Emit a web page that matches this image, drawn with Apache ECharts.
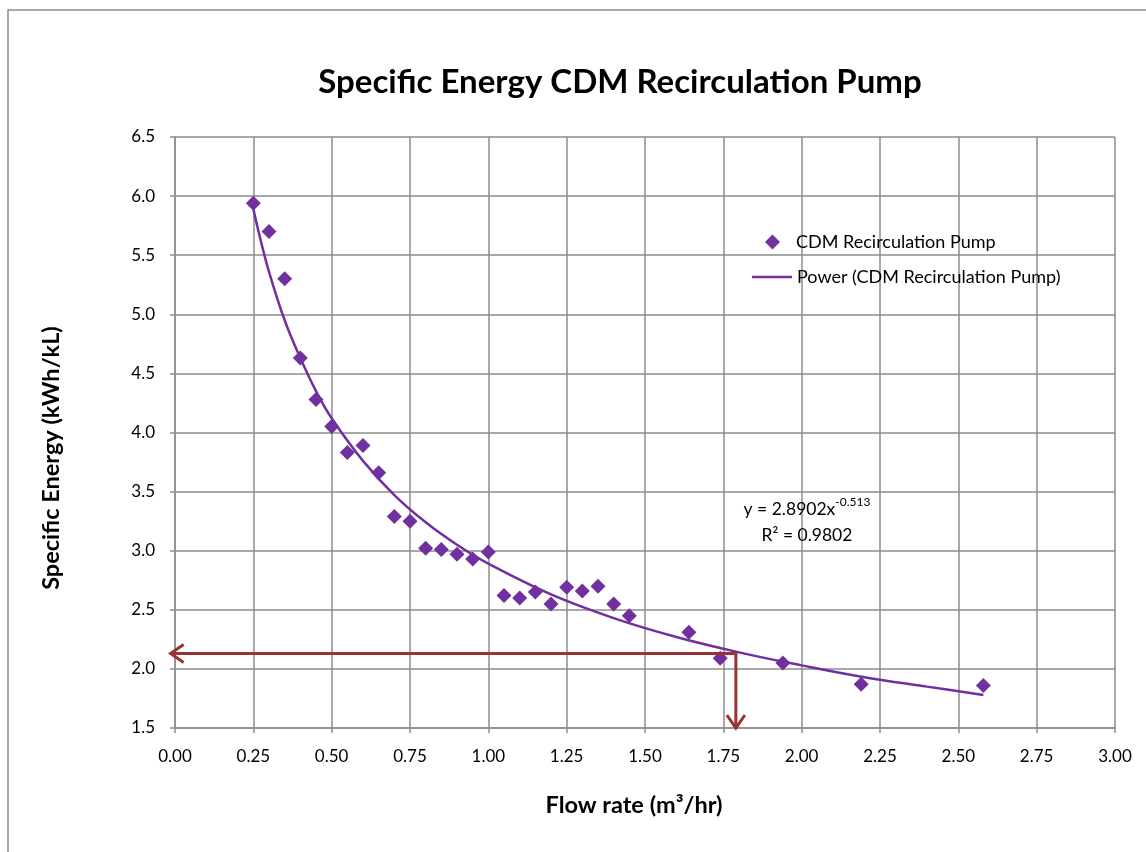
<!DOCTYPE html>
<html>
<head>
<meta charset="utf-8">
<script src="https://cdn.jsdelivr.net/npm/echarts@6/dist/echarts.min.js"></script>
<style>html,body{margin:0;padding:0;background:#fff;}#c{width:1146px;height:852px;}</style>
</head>
<body>
<div id="c"></div>
<script>
// Measured data points (flow rate m3/hr, specific energy kWh/kL)
const flowRates = [0.25,0.30,0.35,0.40,0.45,0.50,0.55,0.60,0.65,0.70,0.75,0.80,0.85,0.90,0.95,1.00,1.05,1.10,1.15,1.20,1.25,1.30,1.35,1.40,1.45,1.64,1.74,1.94,2.19,2.58];
const specificEnergy = [5.94,5.70,5.30,4.63,4.28,4.05,3.83,3.89,3.66,3.29,3.25,3.02,3.01,2.97,2.93,2.99,2.62,2.60,2.65,2.55,2.69,2.66,2.70,2.55,2.45,2.31,2.09,2.05,1.87,1.86];
// Power trendline points
const trendX = [0.25,0.275,0.30,0.35,0.40,0.45,0.50,0.60,0.70,0.80,0.90,1.00,1.20,1.40,1.60,1.80,2.00,2.20,2.40,2.58];
const trendY = [5.89,5.61,5.36,4.95,4.63,4.35,4.12,3.76,3.47,3.24,3.05,2.89,2.63,2.43,2.27,2.14,2.03,1.93,1.85,1.78];
// Arrow annotation (read-off point)
const readX = 1.79, readY = 2.13, arrowLeftX = -0.014;
const xTicks = {min:0, max:3, interval:0.25};
const yTicks = {min:1.5, max:6.5, interval:0.5};

const purple = '#7030A0';
const red = '#993333';
const gridColor = '#8c8c8c';
const font = 'Lato, "Open Sans", sans-serif';

const chart = echarts.init(document.getElementById('c'), null, {renderer:'canvas'});
const legendText = {fontFamily:font, fontSize:18, color:'#000'};
const option = {
  backgroundColor:'#fff',
  animation:false,
  title:{text:'Specific Energy CDM Recirculation Pump', left:615, textAlign:'center', top:61,
    textStyle:{fontFamily:font, fontWeight:'bold', fontSize:33, color:'#000'}},
  grid:{left:175, right:31, top:137, bottom:124},
  legend:[
    {orient:'vertical', left:760, top:228, itemWidth:15, itemHeight:15, itemGap:10,
      textStyle:Object.assign({padding:[0,0,0,11]}, legendText), data:[{name:'CDM Recirculation Pump', icon:'diamond'}]},
    {orient:'vertical', left:747, top:263, itemWidth:40, itemHeight:20, itemGap:10,
      textStyle:legendText, data:[{name:'Power (CDM Recirculation Pump)', icon:'path://M0,0H40V2.5H0Z'}]}
  ],
  xAxis:{type:'value', min:xTicks.min, max:xTicks.max, interval:xTicks.interval,
    axisLine:{show:true, onZero:false, lineStyle:{color:gridColor, width:1.5}},
    axisTick:{show:true, length:5, lineStyle:{color:gridColor, width:1.5}},
    axisLabel:{fontFamily:font, fontSize:17, color:'#000', margin:20, formatter:v=>v.toFixed(2)},
    splitLine:{show:true, lineStyle:{color:gridColor, width:1.5}}},
  yAxis:{type:'value', min:yTicks.min, max:yTicks.max, interval:yTicks.interval,
    axisLine:{show:true, onZero:false, lineStyle:{color:gridColor, width:1.5}},
    axisTick:{show:true, length:5, lineStyle:{color:gridColor, width:1.5}},
    axisLabel:{fontFamily:font, fontSize:17, color:'#000', margin:20, formatter:v=>v.toFixed(1)},
    splitLine:{show:true, lineStyle:{color:gridColor, width:1.5}}},
  series:[
    {name:'CDM Recirculation Pump', type:'scatter', symbol:'diamond', symbolSize:15,
      itemStyle:{color:purple, opacity:1}, z:4,
      data:flowRates.map((x,i)=>[x,specificEnergy[i]])},
    {name:'Power (CDM Recirculation Pump)', type:'line', smooth:0.4, showSymbol:false, symbol:'none',
      lineStyle:{color:purple, width:2.5}, itemStyle:{color:purple}, z:3,
      data:trendX.map((x,i)=>[x,trendY[i]])}
  ]
};
chart.setOption(option);

function drawOverlay(){
  const p = chart.convertToPixel({gridIndex:0}, [readX, readY]);
  const pl = chart.convertToPixel({gridIndex:0}, [arrowLeftX, readY]);
  const pb = chart.convertToPixel({gridIndex:0}, [readX, yTicks.min]);
  const ah = 13, aw = 9;
  const st = {stroke:red, lineWidth:3, fill:null};
  chart.setOption({graphic:[
    {type:'rect', shape:{x:8, y:10, width:1300, height:1000}, style:{stroke:'#8c8c8c', lineWidth:1.5, fill:null}, silent:true, z:-1},
    {type:'polyline', shape:{points:[[pb[0],pb[1]],[p[0],p[1]],[pl[0],pl[1]]]}, style:st, z:10},
    {type:'polyline', shape:{points:[[pl[0]+ah,pl[1]-aw],[pl[0],pl[1]],[pl[0]+ah,pl[1]+aw]]}, style:st, z:10},
    {type:'polyline', shape:{points:[[pb[0]-aw,pb[1]-ah],[pb[0],pb[1]],[pb[0]+aw,pb[1]-ah]]}, style:st, z:10},
    {type:'text', x:634, y:805, style:{text:'Flow rate (m³/hr)', align:'center', verticalAlign:'middle',
      fontFamily:font, fontWeight:'bold', fontSize:23.5, fill:'#000'}, z:10},
    {type:'text', x:51, y:458, rotation:Math.PI/2, style:{text:'Specific Energy (kWh/kL)', align:'center', verticalAlign:'middle',
      fontFamily:font, fontWeight:'bold', fontSize:23.5, fill:'#000'}, z:10},
    {type:'text', x:807, y:522, style:{
      text:'{n|y = 2.8902x}{s|-0.513}\n{n|R² = 0.9802}', align:'center', verticalAlign:'middle', lineHeight:26,
      rich:{n:{fontFamily:font, fontSize:17.5, color:'#000', lineHeight:26}, s:{fontFamily:font, fontSize:12, color:'#000', verticalAlign:'top', padding:[0,0,12,0]}}
    }, z:10}
  ]});
}
drawOverlay();
</script>
</body>
</html>
